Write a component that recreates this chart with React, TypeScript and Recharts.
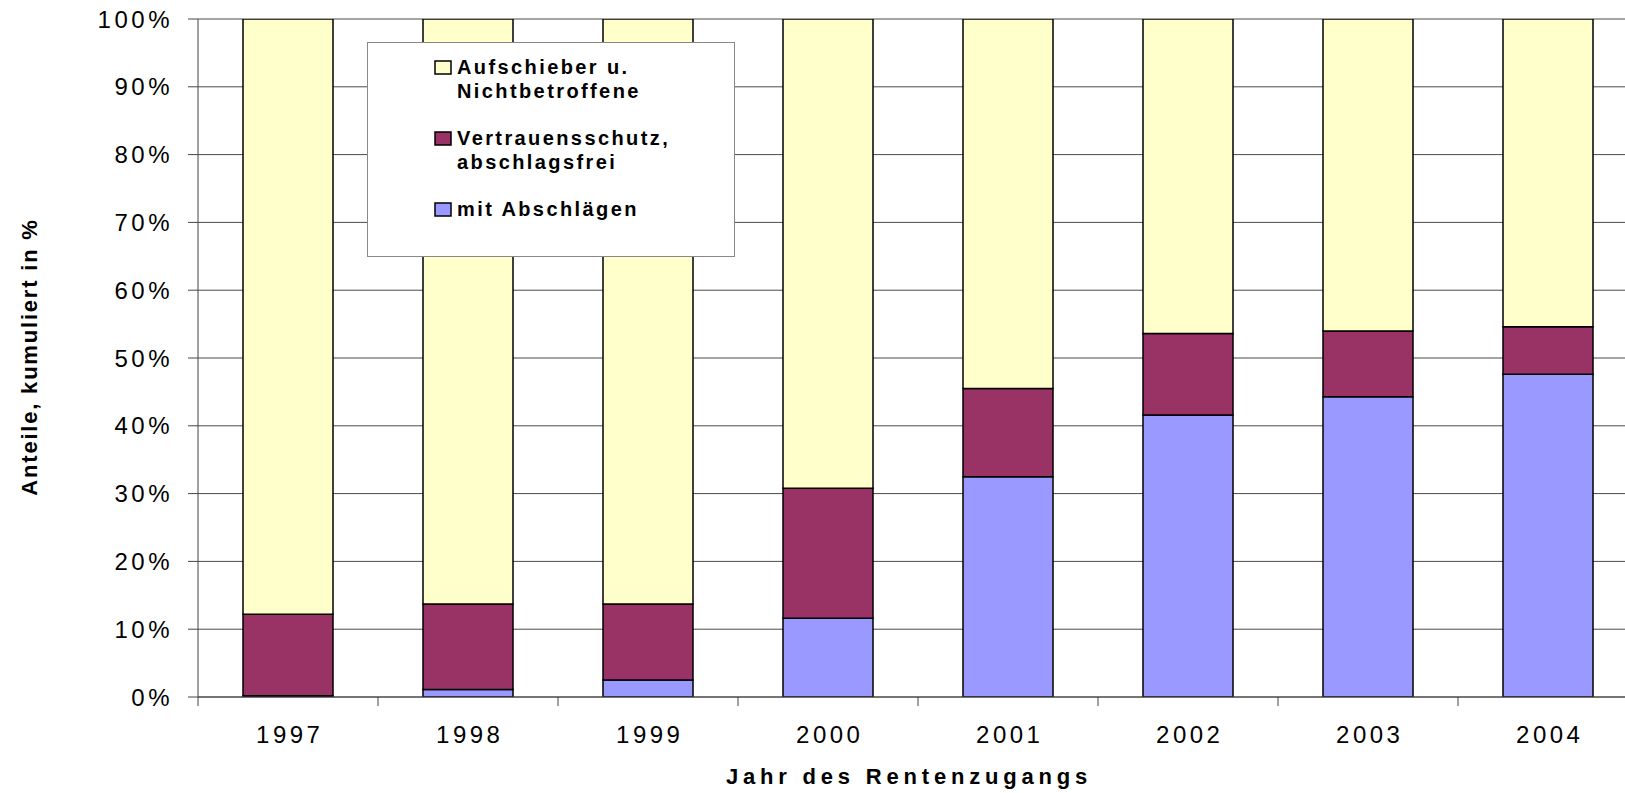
import { BarChart, Bar, XAxis, YAxis, CartesianGrid, Legend } from 'recharts';

const years = ['1997', '1998', '1999', '2000', '2001', '2002', '2003', '2004'];
// Anteile in % (nicht kumuliert), gestapelt ergeben sie 100
const mitAbschlaegen = [0.2, 1.1, 2.5, 11.6, 32.5, 41.6, 44.3, 47.6];
const vertrauensschutz = [12.0, 12.6, 11.2, 19.2, 13.0, 12.0, 9.7, 7.0];
const aufschieber = [87.8, 86.3, 86.3, 69.2, 54.5, 46.4, 46.0, 45.4];
const yTicks = [0, 10, 20, 30, 40, 50, 60, 70, 80, 90, 100];

const series = [
  { key: 'abschlaege', label: ['mit Abschlägen'], color: '#9999FF' },
  { key: 'vertrauen', label: ['Vertrauensschutz,', 'abschlagsfrei'], color: '#993366' },
  { key: 'aufschieber', label: ['Aufschieber u.', 'Nichtbetroffene'], color: '#FFFFCC' },
];

const data = years.map((year, i) => ({
  year,
  abschlaege: mitAbschlaegen[i],
  vertrauen: vertrauensschutz[i],
  aufschieber: aufschieber[i],
}));

const FONT = '"Liberation Sans", Arial, sans-serif';
const CHART_W = 1660;
const CHART_H = 793;
const AXIS_W = 198;
const MARGIN_R = 22;
const BAND = (CHART_W - AXIS_W - MARGIN_R) / years.length;

const XTick = (props: any) => {
  const { x, y, payload } = props;
  const left = x - BAND / 2;
  return (
    <g>
      <line x1={left} y1={y} x2={left} y2={y + 9} stroke="#444" />
      <text
        x={x + 1.75}
        y={y + 46}
        textAnchor="middle"
        fontSize={24}
        letterSpacing={3.5}
        fontFamily={FONT}
        fill="#000"
      >
        {payload.value}
      </text>
    </g>
  );
};

const YLabel = () => (
  <text
    x={37}
    y={357}
    transform="rotate(-90 37 357)"
    textAnchor="middle"
    fontSize={22}
    fontWeight="bold"
    letterSpacing={1.8}
    fontFamily={FONT}
    fill="#000"
  >
    Anteile, kumuliert in %
  </text>
);

const XLabel = () => (
  <text
    x={909}
    y={784}
    textAnchor="middle"
    fontSize={22}
    fontWeight="bold"
    letterSpacing={4.8}
    fontFamily={FONT}
    fill="#000"
  >
    Jahr des Rentenzugangs
  </text>
);

const LegendBox = () => {
  const entries = [...series].reverse();
  const tops = [19, 90, 161];
  return (
    <svg width={368} height={215} style={{ display: 'block' }}>
      <rect x={0.5} y={0.5} width={367} height={214} fill="#fff" stroke="#888" />
      {entries.map((s, i) => (
        <g key={s.key}>
          <rect x={68} y={tops[i]} width={16} height={13} fill={s.color} stroke="#000" strokeWidth={1.5} />
          {s.label.map((line, j) => (
            <text
              key={j}
              x={90}
              y={tops[i] + 12.5 + j * 24}
              fontSize={20}
              fontWeight="bold"
              letterSpacing={2.4}
              fontFamily={FONT}
              fill="#000"
            >
              {line}
            </text>
          ))}
        </g>
      ))}
    </svg>
  );
};

export default function App() {
  return (
    <div
      style={{
        position: 'absolute',
        left: 0,
        top: 0,
        width: 1625,
        height: 793,
        overflow: 'hidden',
        background: '#fff',
      }}
    >
      <BarChart
        width={CHART_W}
        height={CHART_H}
        data={data}
        margin={{ top: 19, right: MARGIN_R, left: 0, bottom: 0 }}
        barCategoryGap="25%"
      >
        <CartesianGrid vertical={false} stroke="#4a4a4a" />
        <XAxis
          dataKey="year"
          height={96}
          axisLine={{ stroke: '#444' }}
          tickLine={false}
          tickSize={0}
          tickMargin={0}
          tick={<XTick />}
          interval={0}
          label={<XLabel />}
        />
        <YAxis
          width={AXIS_W}
          domain={[0, 100]}
          ticks={yTicks}
          allowDataOverflow
          tickFormatter={(v) => `${v}%`}
          axisLine={{ stroke: '#444' }}
          tickLine={{ stroke: '#444' }}
          tickSize={10}
          tickMargin={15}
          tick={{ fontSize: 24, letterSpacing: 3.5, fontFamily: FONT, fill: '#000' }}
          label={<YLabel />}
        />
        <Legend
          layout="vertical"
          align="center"
          verticalAlign="middle"
          content={() => <LegendBox />}
          wrapperStyle={{ position: 'absolute', left: 367, top: 42, width: 368, height: 215 }}
        />
        {series.map((s) => (
          <Bar
            key={s.key}
            dataKey={s.key}
            stackId="a"
            fill={s.color}
            stroke="#000"
            strokeWidth={1.5}
            isAnimationActive={false}
          />
        ))}
      </BarChart>
    </div>
  );
}
